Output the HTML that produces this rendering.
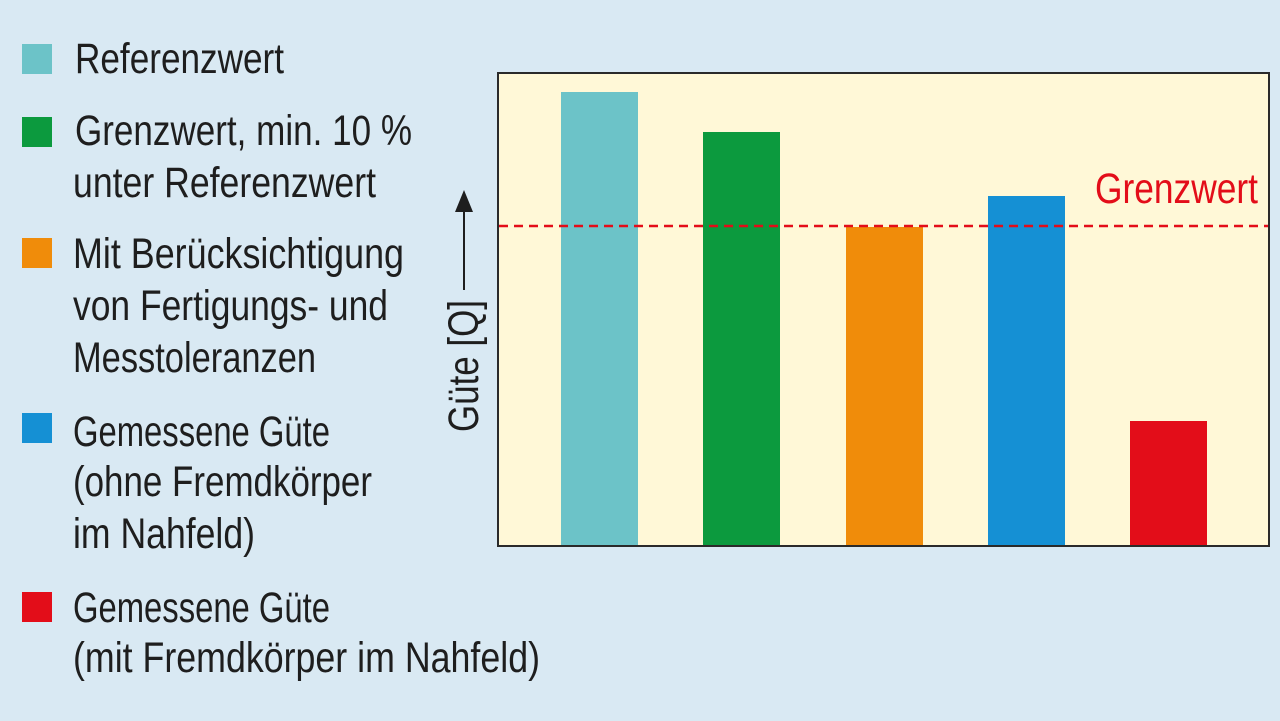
<!DOCTYPE html>
<html><head><meta charset="utf-8"><style>
html,body{margin:0;padding:0;background:#d9e9f3;}
svg{display:block}
text{font-family:"Liberation Sans Narrow","Liberation Sans",sans-serif;font-size:43px;fill:#1e1e1e;}
</style></head><body>
<svg width="1280" height="721" viewBox="0 0 1280 721">
<rect width="1280" height="721" fill="#d9e9f3"/>
<rect x="22" y="44" width="30" height="30" fill="#6cc3c8"/>
<rect x="22" y="117" width="30" height="30" fill="#0c9a3e"/>
<rect x="22" y="238" width="30" height="30" fill="#f08c0a"/>
<rect x="22" y="413" width="30" height="30" fill="#1590d4"/>
<rect x="22" y="592" width="30" height="30" fill="#e30d19"/>
<text x="75" y="73" textLength="209" lengthAdjust="spacingAndGlyphs">Referenzwert</text>
<text x="75" y="145" textLength="337" lengthAdjust="spacingAndGlyphs">Grenzwert, min. 10 %</text>
<text x="73" y="197" textLength="303" lengthAdjust="spacingAndGlyphs">unter Referenzwert</text>
<text x="73" y="268" textLength="331" lengthAdjust="spacingAndGlyphs">Mit Berücksichtigung</text>
<text x="73" y="320" textLength="315" lengthAdjust="spacingAndGlyphs">von Fertigungs- und</text>
<text x="73" y="372" textLength="243" lengthAdjust="spacingAndGlyphs">Messtoleranzen</text>
<text x="73" y="446" textLength="257" lengthAdjust="spacingAndGlyphs">Gemessene Güte</text>
<text x="73" y="496" textLength="299" lengthAdjust="spacingAndGlyphs">(ohne Fremdkörper</text>
<text x="73" y="548" textLength="182" lengthAdjust="spacingAndGlyphs">im Nahfeld)</text>
<text x="73" y="622" textLength="257" lengthAdjust="spacingAndGlyphs">Gemessene Güte</text>
<text x="73" y="672" textLength="467" lengthAdjust="spacingAndGlyphs">(mit Fremdkörper im Nahfeld)</text>
<rect x="498" y="73" width="771" height="473" fill="#fff8d7" stroke="#2a2a2a" stroke-width="2"/>
<rect x="561" y="92" width="77" height="453" fill="#6cc3c8"/>
<rect x="703" y="132" width="77" height="413" fill="#0c9a3e"/>
<rect x="846" y="227" width="77" height="318" fill="#f08c0a"/>
<rect x="988" y="196" width="77" height="349" fill="#1590d4"/>
<rect x="1130" y="421" width="77" height="124" fill="#e30d19"/>
<line x1="499" y1="226" x2="1268" y2="226" stroke="#e30d19" stroke-width="2.5" stroke-dasharray="9,6"/>
<text x="1095" y="203" textLength="163" lengthAdjust="spacingAndGlyphs" style="fill:#e30d19">Grenzwert</text>
<text transform="translate(478,432) rotate(-90)" x="0" y="0" textLength="132" lengthAdjust="spacingAndGlyphs">Güte [Q]</text>
<line x1="464" y1="290" x2="464" y2="210" stroke="#1e1e1e" stroke-width="2"/>
<polygon points="464,190 455,212 473,212" fill="#1e1e1e"/>
</svg>
</body></html>
